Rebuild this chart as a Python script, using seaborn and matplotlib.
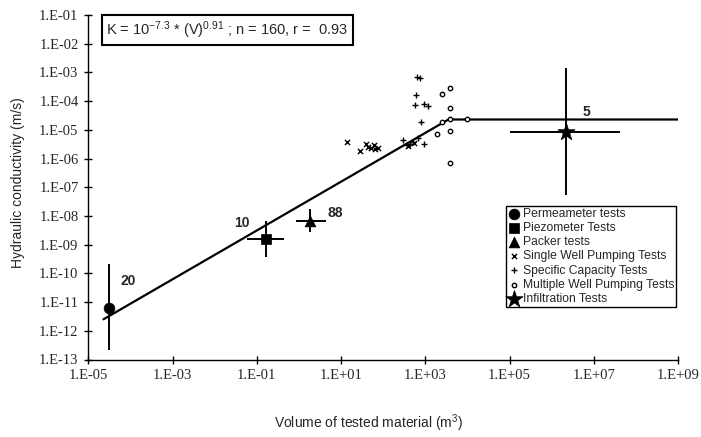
import numpy as np
import pandas as pd
import matplotlib
matplotlib.use("Agg")
import matplotlib.pyplot as plt
import seaborn as sns
from matplotlib.ticker import FixedLocator, FuncFormatter, NullLocator

# ---------------- data (log10 values) ----------------
# envelope / regression line
line_logV = [-4.64, 3.55, 9.0]
line_logK = [-11.60, -4.64, -4.64]

# grouped tests: mean value with range bars
big_names = ["Permeameter tests", "Piezometer Tests", "Packer tests", "Infiltration Tests"]
big_logV = [-4.52, -0.79, 0.26, 6.33]
big_logK = [-11.20, -8.81, -8.18, -5.07]
big_logV_lo = [-4.52, -1.24, -0.08, 5.00]
big_logV_hi = [-4.52, -0.35, 0.64, 7.62]
big_logK_lo = [-12.67, -9.44, -8.57, -7.27]
big_logK_hi = [-9.68, -8.17, -7.77, -2.86]
big_counts = ["20", "10", "88", "5"]

# single well pumping tests
single_logV = [1.14, 1.44, 1.60, 1.65, 1.72, 1.79, 1.81, 1.87, 2.58, 2.74]
single_logK = [-5.42, -5.73, -5.50, -5.59, -5.64, -5.53, -5.67, -5.64, -5.55, -5.45]

# specific capacity tests
spec_logV = [2.80, 2.88, 2.78, 2.76, 2.98, 3.06, 2.90, 2.48, 2.56, 2.64, 2.70, 2.82, 2.98]
spec_logK = [-3.17, -3.21, -3.80, -4.15, -4.09, -4.17, -4.74, -5.36, -5.53, -5.51, -5.42, -5.28, -5.50]

# multiple well pumping tests
mult_logV = [3.59, 3.39, 3.59, 3.39, 3.59, 3.99, 3.27, 3.59, 3.59]
mult_logK = [-3.55, -3.74, -4.24, -4.74, -4.64, -4.61, -5.16, -5.05, -6.14]

x_ticks = [-5, -3, -1, 1, 3, 5, 7, 9]
y_ticks = [-13, -12, -11, -10, -9, -8, -7, -6, -5, -4, -3, -2, -1]

equation = r"K = 10$^{-7.3}$ * (V)$^{0.91}$ ; n = 160, r =  0.93"
x_label = "Volume of tested material (m$^{3}$)"
y_label = "Hydraulic conductivity (m/s)"

# ---------------- style ----------------
sns.set_style("ticks")
plt.rcParams["font.family"] = ["Liberation Sans", "DejaVu Sans"]
plt.rcParams["mathtext.default"] = "regular"

fig = plt.figure(figsize=(7.01, 4.37), dpi=100)
ax = fig.add_axes([88.3 / 701, 1 - 359.5 / 437, 589.7 / 701, 344.5 / 437])

p = lambda a: np.power(10.0, np.asarray(a, dtype=float))

# envelope line
sns.lineplot(x=p(line_logV), y=p(line_logK), ax=ax, color="black", lw=1.6,
             sort=False, estimator=None, legend=False)

# range bars
V = p(big_logV); K = p(big_logK)
xerr = np.vstack([V - p(big_logV_lo), p(big_logV_hi) - V])
yerr = np.vstack([K - p(big_logK_lo), p(big_logK_hi) - K])
ax.errorbar(V, K, xerr=xerr, yerr=yerr, fmt="none", ecolor="black",
            elinewidth=1.4, capsize=0, zorder=3)

big_markers = ["o", "s", "^", "*"]
big_sizes = [60, 50, 60, 170]
for name, v, k, m, s in zip(big_names, V, K, big_markers, big_sizes):
    sns.scatterplot(x=[v], y=[k], ax=ax, marker=m, s=s, color="black",
                    edgecolor="black", linewidth=0.5, label=name, zorder=4)

sns.scatterplot(x=p(single_logV), y=p(single_logK), ax=ax, marker="x", s=14,
                color="black", linewidth=1.0, label="Single Well Pumping Tests", zorder=4)
sns.scatterplot(x=p(spec_logV), y=p(spec_logK), ax=ax, marker="+", s=22,
                color="black", linewidth=1.0, label="Specific Capacity Tests", zorder=4)
sns.scatterplot(x=p(mult_logV), y=p(mult_logK), ax=ax, marker="o", s=10,
                facecolor="white", edgecolor="black", linewidth=1.0,
                label="Multiple Well Pumping Tests", zorder=4)

# count labels
offsets = [(14, 19), (-17, 12), (18, 6), (15, 14)]
for v, k, c, off in zip(V, K, big_counts, offsets):
    ax.annotate(c, (v, k), xytext=off, textcoords="offset points",
                ha="center", va="center", fontsize=10, fontweight="bold")

# axes
ax.set_xscale("log"); ax.set_yscale("log")
ax.set_xlim(p(-5), p(9)); ax.set_ylim(p(-13), p(-1))
ax.xaxis.set_major_locator(FixedLocator(p(x_ticks)))
ax.yaxis.set_major_locator(FixedLocator(p(y_ticks)))
ax.xaxis.set_minor_locator(NullLocator()); ax.yaxis.set_minor_locator(NullLocator())
fmt = FuncFormatter(lambda v, pos: "1.E{:+03d}".format(int(round(np.log10(v)))))
ax.xaxis.set_major_formatter(fmt); ax.yaxis.set_major_formatter(fmt)
ax.tick_params(direction="inout", length=6, width=1.0, color="black", pad=4)
for lab in ax.get_xticklabels() + ax.get_yticklabels():
    lab.set_family(["Liberation Serif", "DejaVu Serif"])
    lab.set_fontsize(10.5)
sns.despine(ax=ax)
for sp in ["left", "bottom"]:
    ax.spines[sp].set_linewidth(1.0)
    ax.spines[sp].set_color("black")

ax.set_xlabel(x_label, fontsize=10)
ax.xaxis.set_label_coords(0.475, -0.155)
ax.set_ylabel(y_label, fontsize=10)
ax.yaxis.set_label_coords(-0.107, 0.512)

ax.text(0.030, 0.988, equation, transform=ax.transAxes, ha="left", va="top",
        fontsize=10.5,
        bbox=dict(boxstyle="square,pad=0.3", fc="white", ec="black", lw=1.5))

# legend order
h, l = ax.get_legend_handles_labels()
order = ["Permeameter tests", "Piezometer Tests", "Packer tests",
         "Single Well Pumping Tests", "Specific Capacity Tests",
         "Multiple Well Pumping Tests", "Infiltration Tests"]
hd = dict(zip(l, h))
leg = ax.legend([hd[o] for o in order], order, loc="upper left",
                bbox_to_anchor=(506 / 701, 1 - 206 / 437), bbox_transform=fig.transFigure,
                frameon=True, fancybox=False, framealpha=1, edgecolor="black",
                fontsize=8.7, borderpad=0.15, labelspacing=0.18, handlelength=1.0,
                handletextpad=0.25, borderaxespad=0)
leg.get_frame().set_linewidth(1.0)

fig.savefig("out.png", dpi=100)
